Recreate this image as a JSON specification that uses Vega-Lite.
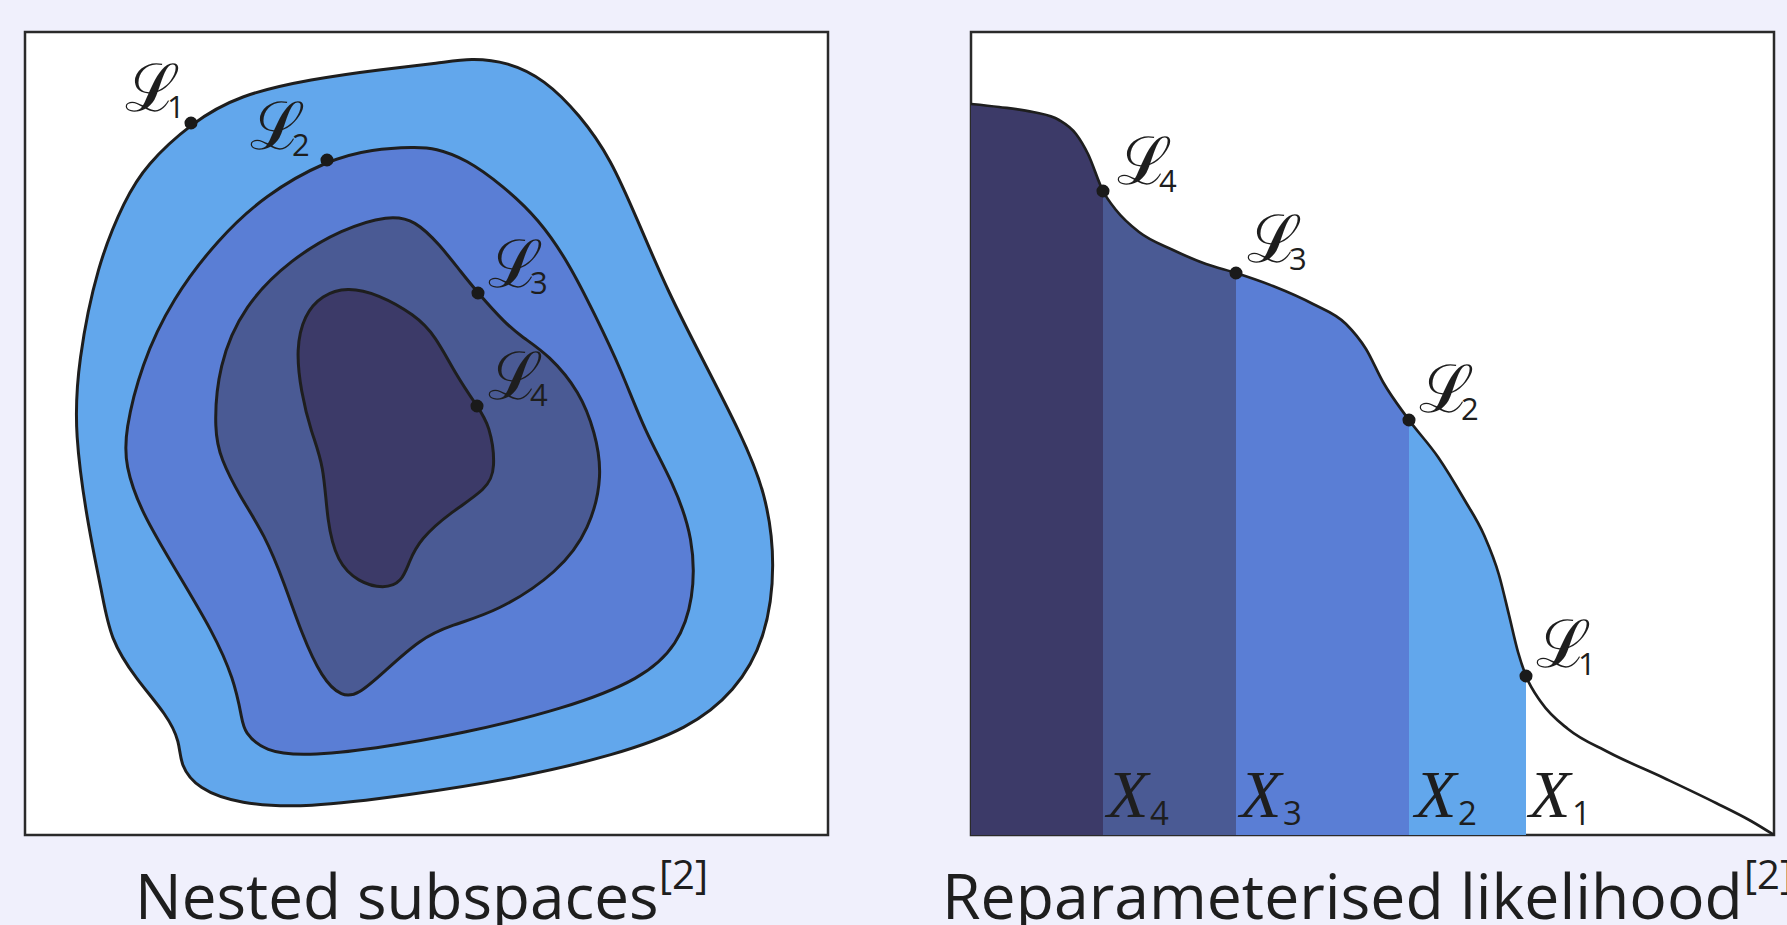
{
  "$schema": "https://vega.github.io/schema/vega-lite/v6.json",
  "background": "#f0f0fc",
  "padding": {"left": 23, "top": 30, "right": 0, "bottom": 0},
  "spacing": 143,
  "bounds": "flush",
  "config": {"view": {"stroke": "#2a2a2a", "strokeWidth": 2.5, "fill": "white"}},
  "datasets": {
    "blobs": [
      {"ring": 1, "i": 1, "x": 166, "y": 91}, {"ring": 1, "i": 2, "x": 214, "y": 63}, {"ring": 1, "i": 3, "x": 286, "y": 47}, {"ring": 1, "i": 4, "x": 359, "y": 37}, {"ring": 1, "i": 5, "x": 415, "y": 31}, {"ring": 1, "i": 6, "x": 446, "y": 26}, {"ring": 1, "i": 7, "x": 483, "y": 30}, {"ring": 1, "i": 8, "x": 519, "y": 47}, {"ring": 1, "i": 9, "x": 555, "y": 83}, {"ring": 1, "i": 10, "x": 586, "y": 127}, {"ring": 1, "i": 11, "x": 612, "y": 187}, {"ring": 1, "i": 12, "x": 643, "y": 260}, {"ring": 1, "i": 13, "x": 679, "y": 330}, {"ring": 1, "i": 14, "x": 715, "y": 400}, {"ring": 1, "i": 15, "x": 741, "y": 460}, {"ring": 1, "i": 16, "x": 751, "y": 533}, {"ring": 1, "i": 17, "x": 741, "y": 607}, {"ring": 1, "i": 18, "x": 710, "y": 660}, {"ring": 1, "i": 19, "x": 663, "y": 697}, {"ring": 1, "i": 20, "x": 591, "y": 723}, {"ring": 1, "i": 21, "x": 488, "y": 747}, {"ring": 1, "i": 22, "x": 384, "y": 763}, {"ring": 1, "i": 23, "x": 281, "y": 776}, {"ring": 1, "i": 24, "x": 214, "y": 772}, {"ring": 1, "i": 25, "x": 173, "y": 757}, {"ring": 1, "i": 26, "x": 155, "y": 733}, {"ring": 1, "i": 27, "x": 155, "y": 710}, {"ring": 1, "i": 28, "x": 142, "y": 683}, {"ring": 1, "i": 29, "x": 111, "y": 647}, {"ring": 1, "i": 30, "x": 85, "y": 607}, {"ring": 1, "i": 31, "x": 77, "y": 560}, {"ring": 1, "i": 32, "x": 64, "y": 500}, {"ring": 1, "i": 33, "x": 49, "y": 400}, {"ring": 1, "i": 34, "x": 53, "y": 330}, {"ring": 1, "i": 35, "x": 72, "y": 233}, {"ring": 1, "i": 36, "x": 100, "y": 167}, {"ring": 1, "i": 37, "x": 121, "y": 133},
      {"ring": 2, "i": 1, "x": 302, "y": 128}, {"ring": 2, "i": 2, "x": 348, "y": 117}, {"ring": 2, "i": 3, "x": 390, "y": 115}, {"ring": 2, "i": 4, "x": 410, "y": 116}, {"ring": 2, "i": 5, "x": 441, "y": 127}, {"ring": 2, "i": 6, "x": 477, "y": 153}, {"ring": 2, "i": 7, "x": 514, "y": 187}, {"ring": 2, "i": 8, "x": 545, "y": 233}, {"ring": 2, "i": 9, "x": 570, "y": 283}, {"ring": 2, "i": 10, "x": 596, "y": 337}, {"ring": 2, "i": 11, "x": 620, "y": 400}, {"ring": 2, "i": 12, "x": 648, "y": 450}, {"ring": 2, "i": 13, "x": 669, "y": 507}, {"ring": 2, "i": 14, "x": 669, "y": 567}, {"ring": 2, "i": 15, "x": 653, "y": 613}, {"ring": 2, "i": 16, "x": 617, "y": 647}, {"ring": 2, "i": 17, "x": 539, "y": 677}, {"ring": 2, "i": 18, "x": 436, "y": 702}, {"ring": 2, "i": 19, "x": 348, "y": 717}, {"ring": 2, "i": 20, "x": 281, "y": 724}, {"ring": 2, "i": 21, "x": 240, "y": 720}, {"ring": 2, "i": 22, "x": 219, "y": 700}, {"ring": 2, "i": 23, "x": 217, "y": 687}, {"ring": 2, "i": 24, "x": 209, "y": 647}, {"ring": 2, "i": 25, "x": 188, "y": 600}, {"ring": 2, "i": 26, "x": 152, "y": 540}, {"ring": 2, "i": 27, "x": 116, "y": 480}, {"ring": 2, "i": 28, "x": 100, "y": 433}, {"ring": 2, "i": 29, "x": 100, "y": 400}, {"ring": 2, "i": 30, "x": 116, "y": 333}, {"ring": 2, "i": 31, "x": 147, "y": 267}, {"ring": 2, "i": 32, "x": 193, "y": 207}, {"ring": 2, "i": 33, "x": 240, "y": 163},
      {"ring": 3, "i": 1, "x": 364, "y": 183}, {"ring": 3, "i": 2, "x": 390, "y": 188}, {"ring": 3, "i": 3, "x": 415, "y": 213}, {"ring": 3, "i": 4, "x": 436, "y": 240}, {"ring": 3, "i": 5, "x": 453, "y": 261}, {"ring": 3, "i": 6, "x": 480, "y": 291}, {"ring": 3, "i": 7, "x": 497, "y": 305}, {"ring": 3, "i": 8, "x": 524, "y": 323}, {"ring": 3, "i": 9, "x": 555, "y": 360}, {"ring": 3, "i": 10, "x": 570, "y": 400}, {"ring": 3, "i": 11, "x": 578, "y": 443}, {"ring": 3, "i": 12, "x": 565, "y": 497}, {"ring": 3, "i": 13, "x": 534, "y": 540}, {"ring": 3, "i": 14, "x": 472, "y": 580}, {"ring": 3, "i": 15, "x": 426, "y": 593}, {"ring": 3, "i": 16, "x": 395, "y": 607}, {"ring": 3, "i": 17, "x": 359, "y": 640}, {"ring": 3, "i": 18, "x": 333, "y": 663}, {"ring": 3, "i": 19, "x": 317, "y": 665}, {"ring": 3, "i": 20, "x": 297, "y": 647}, {"ring": 3, "i": 21, "x": 276, "y": 600}, {"ring": 3, "i": 22, "x": 260, "y": 553}, {"ring": 3, "i": 23, "x": 240, "y": 503}, {"ring": 3, "i": 24, "x": 214, "y": 463}, {"ring": 3, "i": 25, "x": 196, "y": 427}, {"ring": 3, "i": 26, "x": 189, "y": 400}, {"ring": 3, "i": 27, "x": 193, "y": 333}, {"ring": 3, "i": 28, "x": 219, "y": 273}, {"ring": 3, "i": 29, "x": 266, "y": 227}, {"ring": 3, "i": 30, "x": 317, "y": 197},
      {"ring": 4, "i": 1, "x": 322, "y": 255}, {"ring": 4, "i": 2, "x": 353, "y": 262}, {"ring": 4, "i": 3, "x": 390, "y": 283}, {"ring": 4, "i": 4, "x": 410, "y": 303}, {"ring": 4, "i": 5, "x": 431, "y": 343}, {"ring": 4, "i": 6, "x": 452, "y": 374}, {"ring": 4, "i": 7, "x": 465, "y": 393}, {"ring": 4, "i": 8, "x": 471, "y": 437}, {"ring": 4, "i": 9, "x": 462, "y": 457}, {"ring": 4, "i": 10, "x": 426, "y": 480}, {"ring": 4, "i": 11, "x": 395, "y": 507}, {"ring": 4, "i": 12, "x": 384, "y": 530}, {"ring": 4, "i": 13, "x": 377, "y": 550}, {"ring": 4, "i": 14, "x": 359, "y": 557}, {"ring": 4, "i": 15, "x": 333, "y": 550}, {"ring": 4, "i": 16, "x": 312, "y": 530}, {"ring": 4, "i": 17, "x": 302, "y": 490}, {"ring": 4, "i": 18, "x": 299, "y": 433}, {"ring": 4, "i": 19, "x": 286, "y": 400}, {"ring": 4, "i": 20, "x": 276, "y": 360}, {"ring": 4, "i": 21, "x": 271, "y": 317}, {"ring": 4, "i": 22, "x": 279, "y": 283}, {"ring": 4, "i": 23, "x": 297, "y": 263}
    ],
    "dotsL": [{"x": 166, "y": 91}, {"x": 302, "y": 128}, {"x": 453, "y": 261}, {"x": 452, "y": 374}],
    "labelsL": [
      {"main": "ℒ", "sub": "1", "x": 100, "y": 79},
      {"main": "ℒ", "sub": "2", "x": 225, "y": 117},
      {"main": "ℒ", "sub": "3", "x": 463, "y": 255},
      {"main": "ℒ", "sub": "4", "x": 463, "y": 367}
    ],
    "curve": [
      {"x": 0, "y": 72}, {"x": 28, "y": 75}, {"x": 62, "y": 80}, {"x": 88, "y": 88}, {"x": 105, "y": 102}, {"x": 117, "y": 122}, {"x": 132, "y": 159}, {"x": 145, "y": 178}, {"x": 168, "y": 200}, {"x": 202, "y": 218}, {"x": 235, "y": 232}, {"x": 265, "y": 241}, {"x": 302, "y": 254}, {"x": 342, "y": 272}, {"x": 375, "y": 292}, {"x": 395, "y": 317}, {"x": 412, "y": 350}, {"x": 438, "y": 388}, {"x": 467, "y": 425}, {"x": 493, "y": 467}, {"x": 513, "y": 503}, {"x": 528, "y": 543}, {"x": 538, "y": 583}, {"x": 547, "y": 620}, {"x": 555, "y": 644}, {"x": 570, "y": 670}, {"x": 597, "y": 697}, {"x": 637, "y": 720}, {"x": 693, "y": 746}, {"x": 745, "y": 771}, {"x": 780, "y": 789}, {"x": 803, "y": 803}
    ],
    "dotsR": [{"x": 132, "y": 159}, {"x": 265, "y": 241}, {"x": 438, "y": 388}, {"x": 555, "y": 644}],
    "labelsR": [
      {"main": "ℒ", "sub": "4", "x": 146, "y": 152},
      {"main": "ℒ", "sub": "3", "x": 276, "y": 230},
      {"main": "ℒ", "sub": "2", "x": 448, "y": 380},
      {"main": "ℒ", "sub": "1", "x": 565, "y": 635}
    ],
    "xlabels": [
      {"main": "X", "sub": "4", "x": 136, "y": 785},
      {"main": "X", "sub": "3", "x": 269, "y": 785},
      {"main": "X", "sub": "2", "x": 444, "y": 785},
      {"main": "X", "sub": "1", "x": 558, "y": 785}
    ]
  },
  "hconcat": [
    {
      "width": 803,
      "height": 803,
      "encoding": {
        "x": {"field": "x", "type": "quantitative", "scale": {"domain": [0, 803], "nice": false, "zero": false}, "axis": null},
        "y": {"field": "y", "type": "quantitative", "scale": {"domain": [0, 803], "nice": false, "zero": false, "reverse": true}, "axis": null}
      },
      "layer": [
        {"data": {"name": "blobs"}, "transform": [{"filter": "datum.ring == 1"}], "mark": {"type": "line", "interpolate": "basis-closed", "fill": "#62a7ec", "stroke": "#1e1e1e", "strokeWidth": 3}, "encoding": {"order": {"field": "i", "type": "quantitative"}}},
        {"data": {"name": "blobs"}, "transform": [{"filter": "datum.ring == 2"}], "mark": {"type": "line", "interpolate": "basis-closed", "fill": "#5a7ed5", "stroke": "#1e1e1e", "strokeWidth": 3}, "encoding": {"order": {"field": "i", "type": "quantitative"}}},
        {"data": {"name": "blobs"}, "transform": [{"filter": "datum.ring == 3"}], "mark": {"type": "line", "interpolate": "basis-closed", "fill": "#4a5a94", "stroke": "#1e1e1e", "strokeWidth": 3}, "encoding": {"order": {"field": "i", "type": "quantitative"}}},
        {"data": {"name": "blobs"}, "transform": [{"filter": "datum.ring == 4"}], "mark": {"type": "line", "interpolate": "basis-closed", "fill": "#3c3a68", "stroke": "#1e1e1e", "strokeWidth": 3}, "encoding": {"order": {"field": "i", "type": "quantitative"}}},
        {"data": {"name": "dotsL"}, "mark": {"type": "point", "filled": true, "size": 170, "color": "#1a1a1a", "opacity": 1}},
        {"data": {"name": "labelsL"}, "mark": {"type": "text", "font": "DejaVu Serif", "fontSize": 66, "align": "left", "baseline": "alphabetic", "color": "#1e1e1e"}, "encoding": {"text": {"field": "main"}}},
        {"data": {"name": "labelsL"}, "mark": {"type": "text", "font": "Open Sans", "fontSize": 31, "align": "left", "baseline": "alphabetic", "color": "#1e1e1e", "dx": 42, "dy": 7}, "encoding": {"text": {"field": "sub"}}},
        {"data": {"values": [{"t": "Nested subspaces", "x": 110, "y": 887}]}, "mark": {"type": "text", "font": "Open Sans", "fontSize": 62, "align": "left", "baseline": "alphabetic", "color": "#1e1e1e"}, "encoding": {"text": {"field": "t"}}},
        {"data": {"values": [{"t": "[2]", "x": 634, "y": 857}]}, "mark": {"type": "text", "font": "Open Sans", "fontSize": 40, "align": "left", "baseline": "alphabetic", "color": "#1e1e1e"}, "encoding": {"text": {"field": "t"}}}
      ]
    },
    {
      "width": 803,
      "height": 803,
      "encoding": {
        "x": {"field": "x", "type": "quantitative", "scale": {"domain": [0, 803], "nice": false, "zero": false}, "axis": null},
        "y": {"field": "y", "type": "quantitative", "scale": {"domain": [0, 803], "nice": false, "zero": false, "reverse": true}, "axis": null}
      },
      "layer": [
        {"data": {"name": "curve"}, "transform": [{"filter": "datum.x <= 555"}], "mark": {"type": "area", "interpolate": "monotone", "color": "#62a7ec", "opacity": 1}, "encoding": {"y2": {"datum": 803}}},
        {"data": {"name": "curve"}, "transform": [{"filter": "datum.x <= 438"}], "mark": {"type": "area", "interpolate": "monotone", "color": "#5a7ed5", "opacity": 1}, "encoding": {"y2": {"datum": 803}}},
        {"data": {"name": "curve"}, "transform": [{"filter": "datum.x <= 265"}], "mark": {"type": "area", "interpolate": "monotone", "color": "#4a5a94", "opacity": 1}, "encoding": {"y2": {"datum": 803}}},
        {"data": {"name": "curve"}, "transform": [{"filter": "datum.x <= 132"}], "mark": {"type": "area", "interpolate": "monotone", "color": "#3c3a68", "opacity": 1}, "encoding": {"y2": {"datum": 803}}},
        {"data": {"name": "curve"}, "mark": {"type": "line", "interpolate": "monotone", "color": "#1e1e1e", "strokeWidth": 2.7}, "encoding": {}},
        {"data": {"name": "dotsR"}, "mark": {"type": "point", "filled": true, "size": 170, "color": "#1a1a1a", "opacity": 1}},
        {"data": {"name": "labelsR"}, "mark": {"type": "text", "font": "DejaVu Serif", "fontSize": 66, "align": "left", "baseline": "alphabetic", "color": "#1e1e1e"}, "encoding": {"text": {"field": "main"}}},
        {"data": {"name": "labelsR"}, "mark": {"type": "text", "font": "Open Sans", "fontSize": 31, "align": "left", "baseline": "alphabetic", "color": "#1e1e1e", "dx": 42, "dy": 8}, "encoding": {"text": {"field": "sub"}}},
        {"data": {"name": "xlabels"}, "mark": {"type": "text", "font": "Liberation Serif", "fontStyle": "italic", "fontSize": 68, "align": "left", "baseline": "alphabetic", "color": "#1e1e1e"}, "encoding": {"text": {"field": "main"}}},
        {"data": {"name": "xlabels"}, "mark": {"type": "text", "font": "Open Sans", "fontSize": 33, "align": "left", "baseline": "alphabetic", "color": "#1e1e1e", "dx": 43, "dy": 8}, "encoding": {"text": {"field": "sub"}}},
        {"data": {"values": [{"t": "Reparameterised likelihood", "x": -29, "y": 887}]}, "mark": {"type": "text", "font": "Open Sans", "fontSize": 62.5, "align": "left", "baseline": "alphabetic", "color": "#1e1e1e"}, "encoding": {"text": {"field": "t"}}},
        {"data": {"values": [{"t": "[2]", "x": 773, "y": 857}]}, "mark": {"type": "text", "font": "Open Sans", "fontSize": 40, "align": "left", "baseline": "alphabetic", "color": "#1e1e1e"}, "encoding": {"text": {"field": "t"}}}
      ]
    }
  ]
}
